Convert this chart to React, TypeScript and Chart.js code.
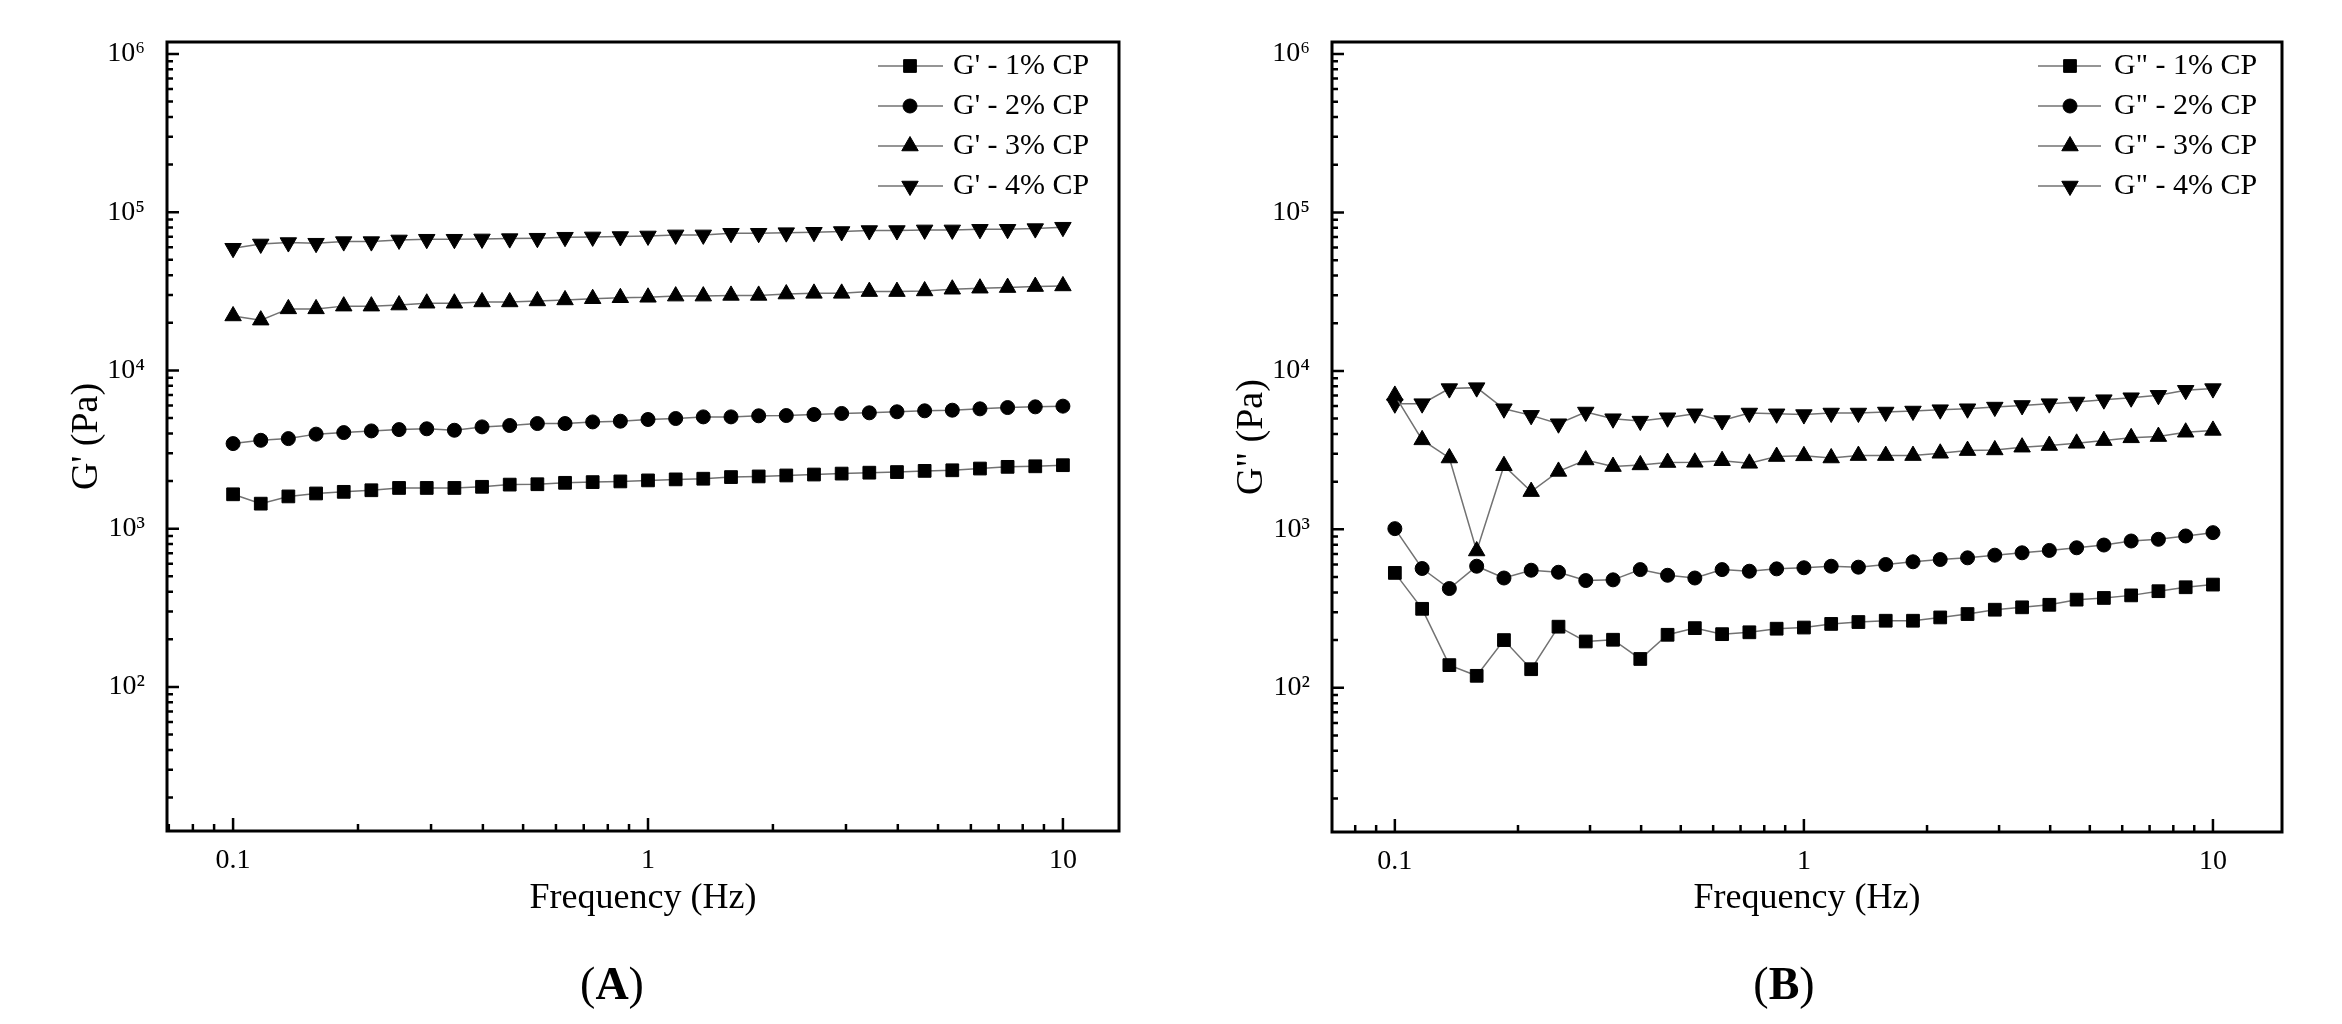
import { useEffect, useRef } from "react";
import { Chart, registerables, type Plugin } from "chart.js";
import { drawPoint } from "chart.js/helpers";

Chart.register(...registerables);

// frequency sweep, Hz
const FREQ = [
  0.1, 0.1166, 0.1359, 0.1585, 0.1848, 0.2154, 0.2512, 0.2929, 0.3415, 0.3981, 0.4642, 0.5412, 0.631, 0.7356,
  0.8577, 1, 1.166, 1.359, 1.585, 1.848, 2.154, 2.512, 2.929, 3.415, 3.981, 4.642, 5.412, 6.31, 7.356, 8.577, 10,
];

// storage modulus G' (Pa)
const G1_STORAGE = [
  1650, 1440, 1600, 1670, 1710, 1750, 1810, 1810, 1810, 1840, 1900, 1910, 1950, 1970, 1990, 2020, 2050, 2070, 2120,
  2140, 2170, 2200, 2230, 2260, 2280, 2320, 2340, 2400, 2460, 2480, 2520,
];
const G2_STORAGE = [
  3450, 3620, 3710, 3960, 4050, 4150, 4230, 4280, 4190, 4400, 4490, 4620, 4620, 4730, 4780, 4900, 4970, 5090, 5090,
  5170, 5190, 5270, 5350, 5400, 5480, 5560, 5610, 5720, 5830, 5890, 5950,
];
const G3_STORAGE = [
  22100, 20800, 24500, 24500, 25500, 25500, 25900, 26600, 26600, 27100, 27100, 27500, 27900, 28400, 28800, 29000,
  29500, 29500, 29800, 29800, 30400, 30700, 30700, 31500, 31500, 31800, 32600, 33100, 33400, 33900, 34200,
];
const G4_STORAGE = [
  59200, 63000, 64300, 63700, 65200, 65200, 66800, 67500, 67500, 67800, 68100, 68500, 69500, 69800, 70200, 70800,
  71900, 71900, 73600, 73600, 74300, 74700, 75500, 76600, 76600, 77300, 77300, 78000, 78000, 78800, 80400,
];

// loss modulus G" (Pa)
const G1_LOSS = [
  531, 315, 139, 119, 200, 131, 243, 196, 201, 152, 216, 238, 218, 224, 236, 240, 253, 260, 265, 265, 278, 292, 311,
  322, 334, 360, 369, 383, 407, 431, 448,
];
const G2_LOSS = [
  1010, 566, 423, 585, 493, 552, 536, 475, 480, 557, 513, 493, 557, 544, 563, 572, 585, 577, 600, 624, 645, 661, 687,
  711, 736, 765, 796, 844, 865, 908, 953,
];
const G3_LOSS = [
  7000, 3670, 2820, 730, 2520, 1730, 2320, 2740, 2490, 2550, 2640, 2650, 2710, 2610, 2880, 2910, 2820, 2920, 2920,
  2920, 3020, 3140, 3170, 3300, 3380, 3490, 3630, 3780, 3850, 4100, 4210,
];
const G4_LOSS = [
  6200, 6210, 7730, 7840, 5770, 5240, 4640, 5500, 4990, 4820, 5060, 5360, 4860, 5420, 5360, 5300, 5420, 5420, 5500,
  5580, 5690, 5770, 5910, 6050, 6210, 6360, 6580, 6770, 7010, 7540, 7730,
];

const STORAGE_NAMES = ["G' - 1% CP", "G' - 2% CP", "G' - 3% CP", "G' - 4% CP"];
const LOSS_NAMES = ['G" - 1% CP', 'G" - 2% CP', 'G" - 3% CP', 'G" - 4% CP'];

const X_TICKS = [0.1, 1, 10];
const X_TICK_TEXT = ["0.1", "1", "10"];
const Y_TICKS = [1e2, 1e3, 1e4, 1e5, 1e6];
const Y_TICK_TEXT = ["10\u00B2", "10\u00B3", "10\u2074", "10\u2075", "10\u2076"];
const MINOR = [2, 3, 4, 5, 6, 7, 8, 9];

const MARKERS = [
  { style: "rect", radius: 9, rotation: 0 },
  { style: "circle", radius: 7, rotation: 0 },
  { style: "triangle", radius: 9.5, rotation: 0 },
  { style: "triangle", radius: 9.5, rotation: 180 },
];

const FONT = "'Liberation Serif', 'Times New Roman', 'DejaVu Serif', serif";
const LINE_GRAY = "#727272";

// box frame, inward log ticks and the line+marker legend
const frameTicks: Plugin<"line"> = {
  id: "frameTicks",
  afterDraw(chart, _args, opts: any) {
    const { ctx, chartArea: a } = chart;
    const xs = chart.scales.x;
    const ys = chart.scales.y;
    ctx.save();
    ctx.strokeStyle = "#000";
    ctx.lineWidth = 2.5;
    ctx.beginPath();
    for (let d = Math.floor(Math.log10(xs.min)); d < Math.ceil(Math.log10(xs.max)); d++) {
      for (const m of MINOR) {
        const v = m * 10 ** d;
        if (v < xs.min || v > xs.max) continue;
        const px = xs.getPixelForValue(v);
        ctx.moveTo(px, a.bottom);
        ctx.lineTo(px, a.bottom - 7);
      }
    }
    for (const v of X_TICKS) {
      const px = xs.getPixelForValue(v);
      ctx.moveTo(px, a.bottom);
      ctx.lineTo(px, a.bottom - 13);
    }
    for (let d = Math.floor(Math.log10(ys.min)); d < Math.ceil(Math.log10(ys.max)); d++) {
      for (const m of MINOR) {
        const v = m * 10 ** d;
        if (v < ys.min || v > ys.max) continue;
        const py = ys.getPixelForValue(v);
        ctx.moveTo(a.left, py);
        ctx.lineTo(a.left + 6, py);
      }
    }
    for (const v of Y_TICKS) {
      const py = ys.getPixelForValue(v);
      ctx.moveTo(a.left, py);
      ctx.lineTo(a.left + 12, py);
    }
    ctx.stroke();
    ctx.lineWidth = 3;
    ctx.strokeRect(a.left, a.top, a.right - a.left, a.bottom - a.top);

    // legend
    ctx.font = `30px ${FONT}`;
    ctx.textBaseline = "middle";
    ctx.textAlign = "left";
    chart.data.datasets.forEach((ds: any, i: number) => {
      const y = opts.top + i * opts.gap;
      ctx.strokeStyle = LINE_GRAY;
      ctx.lineWidth = 1.5;
      ctx.beginPath();
      ctx.moveTo(opts.lineFrom, y);
      ctx.lineTo(opts.lineTo, y);
      ctx.stroke();
      ctx.fillStyle = "#000";
      ctx.strokeStyle = "#000";
      ctx.lineWidth = 1;
      drawPoint(
        ctx,
        { pointStyle: ds.pointStyle, radius: ds.pointRadius, rotation: ds.pointRotation, borderWidth: 1 } as any,
        opts.marker,
        y
      );
      ctx.fillText(ds.label, opts.text, y);
    });
    ctx.restore();
  },
};

type PanelProps = {
  series: number[][];
  names: string[];
  yTitle: string;
  xMin: number;
  xMax: number;
  axisWidth: number;
  rightPad: number;
  bottom: number;
  yTitlePad: number;
  legend: { lineFrom: number; lineTo: number; marker: number; text: number; top: number; gap: number };
};

function Panel({ series, names, yTitle, xMin, xMax, axisWidth, rightPad, bottom, yTitlePad, legend }: PanelProps) {
  const canvasRef = useRef<HTMLCanvasElement | null>(null);

  useEffect(() => {
    if (!canvasRef.current) return;
    const chart = new Chart(canvasRef.current, {
      type: "line",
      data: {
        datasets: series.map((vals, i) => ({
          label: names[i],
          data: FREQ.map((f, j) => ({ x: f, y: vals[j] })),
          borderColor: LINE_GRAY,
          borderWidth: 1.5,
          pointStyle: MARKERS[i].style as any,
          pointRadius: MARKERS[i].radius,
          pointRotation: MARKERS[i].rotation,
          pointBackgroundColor: "#000",
          pointBorderColor: "#000",
          pointBorderWidth: 1,
          tension: 0,
          fill: false,
        })),
      },
      options: {
        animation: false,
        responsive: true,
        maintainAspectRatio: false,
        layout: { padding: { top: 42, right: rightPad, bottom: 0, left: 0 } },
        plugins: {
          legend: { display: false },
          tooltip: { enabled: false },
          frameTicks: legend,
        } as any,
        scales: {
          x: {
            type: "logarithmic",
            min: xMin,
            max: xMax,
            bounds: "data",
            afterBuildTicks: (scale) => {
              scale.ticks = X_TICKS.map((v) => ({ value: v }));
            },
            afterFit: (scale) => {
              scale.height = 1024 - bottom;
            },
            grid: { display: false, drawTicks: false },
            border: { display: false },
            ticks: {
              padding: 13,
              maxRotation: 0,
              autoSkip: false,
              color: "#000",
              font: { family: FONT, size: 28 },
              callback: (v) => X_TICK_TEXT[X_TICKS.indexOf(Number(v))] ?? "",
            },
            title: {
              display: true,
              text: "Frequency (Hz)",
              color: "#000",
              font: { family: FONT, size: 36 },
              padding: { top: 0, bottom: 104 },
            },
          },
          y: {
            type: "logarithmic",
            min: 12.3,
            max: 1.19e6,
            bounds: "data",
            afterBuildTicks: (scale) => {
              scale.ticks = Y_TICKS.map((v) => ({ value: v }));
            },
            afterFit: (scale) => {
              scale.width = axisWidth;
            },
            grid: { display: false, drawTicks: false },
            border: { display: false },
            ticks: {
              padding: 22,
              autoSkip: false,
              color: "#000",
              font: { family: FONT, size: 28 },
              callback: (v) => Y_TICK_TEXT[Y_TICKS.indexOf(Number(v))] ?? "",
            },
            title: {
              display: true,
              text: yTitle,
              color: "#000",
              font: { family: FONT, size: 38 },
              padding: { top: yTitlePad, bottom: 0 },
            },
          },
        },
      },
      plugins: [frameTicks],
    });
    return () => {
      chart.destroy();
    };
  }, [series, names, yTitle, xMin, xMax, axisWidth, rightPad, bottom, yTitlePad, legend]);

  return <canvas ref={canvasRef} />;
}

const STORAGE = [G1_STORAGE, G2_STORAGE, G3_STORAGE, G4_STORAGE];
const LOSS = [G1_LOSS, G2_LOSS, G3_LOSS, G4_LOSS];
const LEGEND_A = { lineFrom: 878, lineTo: 943, marker: 910, text: 953, top: 66, gap: 40 };
const LEGEND_B = { lineFrom: 867, lineTo: 930, marker: 899, text: 943, top: 66, gap: 40 };

const captionStyle = (left: number): React.CSSProperties => ({
  position: "absolute",
  left,
  top: 961,
  transform: "translateX(-50%)",
  font: `46px ${FONT}`,
  lineHeight: "46px",
  color: "#000",
  whiteSpace: "nowrap",
});

export default function App() {
  return (
    <div style={{ position: "absolute", left: 0, top: 0, width: 2342, height: 1024, background: "#fff" }}>
      <div style={{ position: "absolute", left: 0, top: 0, width: 1171, height: 1024 }}>
        <Panel
          series={STORAGE}
          names={STORAGE_NAMES}
          yTitle="G' (Pa)"
          xMin={0.0693}
          xMax={13.65}
          axisWidth={167}
          rightPad={52}
          bottom={831}
          yTitlePad={64}
          legend={LEGEND_A}
        />
      </div>
      <div style={{ position: "absolute", left: 1171, top: 0, width: 1171, height: 1024 }}>
        <Panel
          series={LOSS}
          names={LOSS_NAMES}
          yTitle='G" (Pa)'
          xMin={0.0702}
          xMax={14.75}
          axisWidth={161}
          rightPad={60}
          bottom={832}
          yTitlePad={58}
          legend={LEGEND_B}
        />
      </div>
      <div style={captionStyle(612)}>
        (<b>A</b>)
      </div>
      <div style={captionStyle(1784)}>
        (<b>B</b>)
      </div>
    </div>
  );
}
